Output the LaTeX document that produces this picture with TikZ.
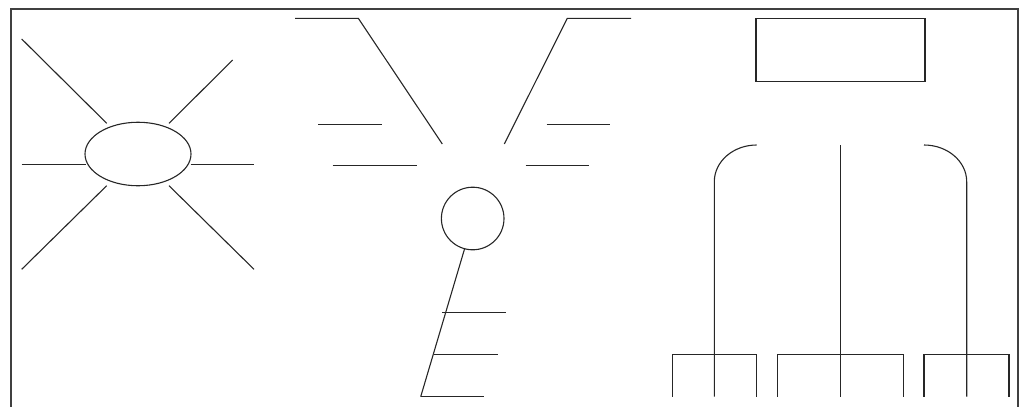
\documentclass[tikz,border=0pt]{standalone}
\usetikzlibrary{shapes.geometric}
\begin{document}
\begin{tikzpicture}[x=1pt,y=-1pt,
  ln/.style={line width=1.1pt,draw=black!85},
  frame/.style={line width=2pt,draw=black!75},
  shp/.style={ln,inner sep=0pt,outer sep=0pt}]
\useasboundingbox (0,0) rectangle (1023,407);
% frame (open at the bottom)
\draw[frame] (11,407) -- (11,9) -- (1018,9) -- (1018,407);

% ---- sun organizer ----
\node[shp,ellipse,minimum width=106pt,minimum height=63.5pt] (sun) at (138,154) {};
\draw[ln] (21.7,39) -- (106.7,123.3);
\draw[ln] (232.7,60) -- (169,123.3);
\draw[ln] (21.7,164.3) -- (85.5,164.3);
\draw[ln] (190.5,164.3) -- (254,164.3);
\draw[ln] (106.7,185.7) -- (21.7,269.3);
\draw[ln] (169,185.7) -- (254,269.3);

% ---- fishbone-like organizer ----
\draw[ln] (295,18.3) -- (358.3,18.3) -- (442.3,144);
\draw[ln] (631,18.3) -- (567.3,18.3) -- (504.3,144);
\draw[ln] (318.3,124.3) -- (381.7,124.3);
\draw[ln] (332.7,165.7) -- (416.7,165.7);
\draw[ln] (546.7,124.3) -- (610,124.3);
\draw[ln] (525.7,165.7) -- (589.3,165.7);
\node[shp,circle,minimum size=62.6pt] (c) at (472.7,218.5) {};
\coordinate (s1) at (442.3,312.7);
\coordinate (s2) at (434,354.3);
\coordinate (s3) at (420.7,396.7);
\draw[ln] (c.-105) -- (s3);
\draw[ln] (s1) -- (505.7,312.7);
\draw[ln] (s2) -- (498.3,354.3);
\draw[ln] (s3) -- (484,396.7);

% ---- tree organizer ----
\node[shp,rectangle,minimum width=169pt,minimum height=62.7pt] (box) at (840.5,49.7) {};
\draw[ln] (714.3,396.7) -- (714.3,181.7) arc[start angle=180,end angle=270,x radius=42.4,y radius=36.7];
\draw[ln] (840.7,145) -- (840.7,396.7);
\draw[ln] (966.7,396.7) -- (966.7,181.7) arc[start angle=0,end angle=-90,x radius=42.7,y radius=36.7];
% brackets
\draw[ln] (672.7,396.7) -- (672.7,354.3) -- (756.7,354.3) -- (756.7,396.7);
\draw[ln] (777.7,396.7) -- (777.7,354.3) -- (903.3,354.3) -- (903.3,396.7);
\draw[ln] (924,396.7) -- (924,354.3) -- (1009,354.3) -- (1009,396.7);
\end{tikzpicture}
\end{document}
